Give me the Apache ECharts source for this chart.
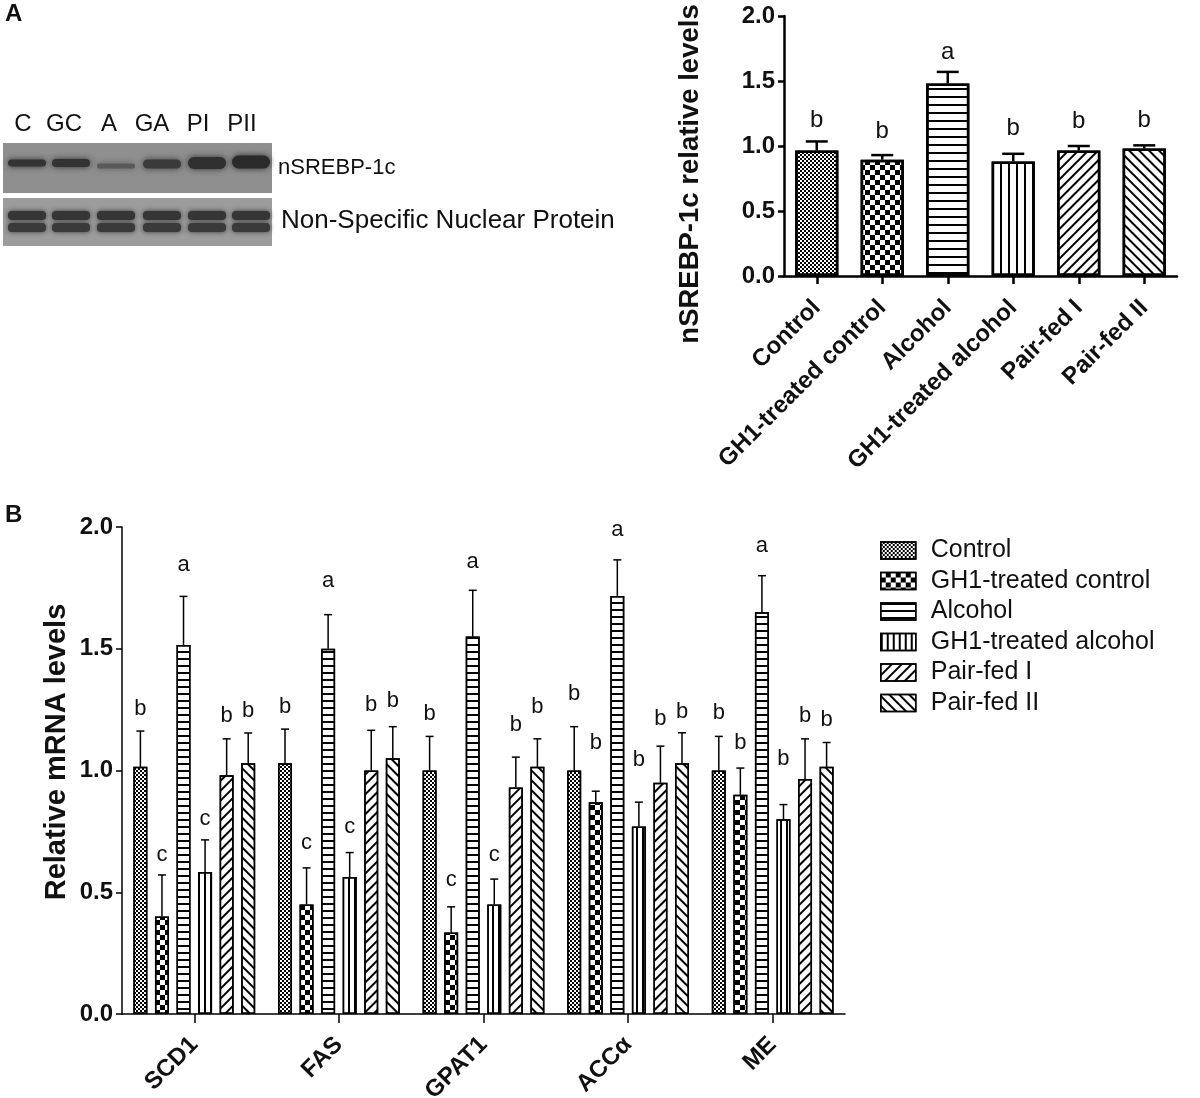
<!DOCTYPE html>
<html><head><meta charset="utf-8">
<script src="https://cdn.jsdelivr.net/npm/echarts@6/dist/echarts.min.js"></script>
<style>html,body{margin:0;padding:0;background:#fff}#c{width:1200px;height:1098px}</style>
</head><body><div id="c"></div>
<script>
const FONT = '"Liberation Sans", Arial, Helvetica, sans-serif';
const INK = '#111';

// ---------- Panel A data ----------
const groupNames = ['Control', 'GH1-treated control', 'Alcohol', 'GH1-treated alcohol', 'Pair-fed I', 'Pair-fed II'];
const srebpValues = [0.965, 0.895, 1.48, 0.88, 0.965, 0.98];
const srebpErrors = [0.07, 0.035, 0.09, 0.06, 0.035, 0.025];
const srebpLetters = ['b', 'b', 'a', 'b', 'b', 'b'];
const srebpLetterLevels = [1.197, 1.11, 1.72, 1.135, 1.19, 1.197];
const yTicks = [0, 0.5, 1.0, 1.5, 2.0];

// Western blot labels
const blotLanes = ['C', 'GC', 'A', 'GA', 'PI', 'PII'];
const blotRows = ['nSREBP-1c', 'Non-Specific Nuclear Protein'];
const bandShadeTop = ['#333', '#333', '#5a5a5a', '#3a3a3a', '#303030', '#2a2a2a'];

// ---------- Panel B data ----------
const genes = ['SCD1', 'FAS', 'GPAT1', 'ACC\u03b1', 'ME'];
const mrnaControl     = [1.015, 1.03, 1.00, 1.00, 1.00];
const mrnaGH1Control  = [0.40, 0.45, 0.335, 0.87, 0.90];
const mrnaAlcohol     = [1.515, 1.50, 1.55, 1.717, 1.65];
const mrnaGH1Alcohol  = [0.583, 0.563, 0.45, 0.77, 0.80];
const mrnaPairFed1    = [0.98, 1.00, 0.93, 0.95, 0.965];
const mrnaPairFed2    = [1.03, 1.05, 1.015, 1.03, 1.015];

const errControl      = [0.147, 0.14, 0.14, 0.18, 0.14];
const errGH1Control   = [0.171, 0.15, 0.105, 0.045, 0.11];
const errAlcohol      = [0.20, 0.14, 0.19, 0.148, 0.15];
const errGH1Alcohol   = [0.132, 0.10, 0.104, 0.10, 0.06];
const errPairFed1     = [0.15, 0.165, 0.125, 0.15, 0.165];
const errPairFed2     = [0.124, 0.13, 0.115, 0.125, 0.10];

const lettersControl     = ['b', 'b', 'b', 'b', 'b'];
const lettersGH1Control  = ['c', 'c', 'c', 'b', 'b'];
const lettersAlcohol     = ['a', 'a', 'a', 'a', 'a'];
const lettersGH1Alcohol  = ['c', 'c', 'c', 'b', 'b'];
const lettersPairFed1    = ['b', 'b', 'b', 'b', 'b'];
const lettersPairFed2    = ['b', 'b', 'b', 'b', 'b'];

const levelControl     = [1.253, 1.261, 1.232, 1.314, 1.236];
const levelGH1Control  = [0.653, 0.702, 0.550, 1.113, 1.113];
const levelAlcohol     = [1.844, 1.778, 1.856, 1.988, 1.922];
const levelGH1Alcohol  = [0.801, 0.768, 0.653, 1.043, 1.047];
const levelPairFed1    = [1.224, 1.269, 1.187, 1.211, 1.224];
const levelPairFed2    = [1.244, 1.285, 1.261, 1.240, 1.207];

// ---------- patterns ----------
function checks(s) { return { symbol: 'rect', symbolSize: 1, dashArrayX: [[s, s], [0, s, s, 0]], dashArrayY: [s, 0], color: '#000' }; }
function hLines(p, w) { return { symbol: 'rect', symbolSize: 1, dashArrayX: [1, 0], dashArrayY: [w, p - w], color: '#000' }; }
function vLines(p, w) { return { symbol: 'rect', symbolSize: 1, dashArrayX: [w, p - w], dashArrayY: [1, 0], color: '#000' }; }
function diag(p, w, rot) { const d = hLines(p, w); d.rotation = rot; return d; }

const decalsA = [checks(2), checks(5), hLines(7, 1.5), vLines(7.2, 1.5), diag(6, 1.5, -Math.PI / 4), diag(6, 1.5, Math.PI / 4)];
const decalsB = [checks(2), checks(4.7), hLines(6.2, 1.5), vLines(4.7, 1.4), diag(5.5, 1.4, -Math.PI / 4), diag(5.5, 1.4, Math.PI / 4)];

const valuesB = [mrnaControl, mrnaGH1Control, mrnaAlcohol, mrnaGH1Alcohol, mrnaPairFed1, mrnaPairFed2];
const errorsB = [errControl, errGH1Control, errAlcohol, errGH1Alcohol, errPairFed1, errPairFed2];
const lettersB = [lettersControl, lettersGH1Control, lettersAlcohol, lettersGH1Alcohol, lettersPairFed1, lettersPairFed2];
const levelsB = [levelControl, levelGH1Control, levelAlcohol, levelGH1Alcohol, levelPairFed1, levelPairFed2];

const BAR_W_B = 14, BAR_GAP_B = 0.54;
const PITCH_B = BAR_W_B * (1 + BAR_GAP_B);

function errRenderer(letters, offset, capW, lw, fontSize) {
  return function (params, api) {
    const cat = api.value(0), v = api.value(1), e = api.value(2), lv = api.value(3);
    const base = api.coord([cat, v]);
    const top = api.coord([cat, v + e]);
    const lp = api.coord([cat, lv]);
    const x = base[0] + offset;
    return {
      type: 'group',
      children: [
        { type: 'line', shape: { x1: x, y1: base[1], x2: x, y2: top[1] }, style: { stroke: '#000', lineWidth: lw } },
        { type: 'line', shape: { x1: x - capW / 2, y1: top[1], x2: x + capW / 2, y2: top[1] }, style: { stroke: '#000', lineWidth: lw } },
        { type: 'text', x: x, y: lp[1], style: { text: letters[params.dataIndex], fontSize: fontSize, fontFamily: FONT, fill: INK, align: 'center', verticalAlign: 'middle' } }
      ]
    };
  };
}

// ---------- blot graphics ----------
const blotX = 3, blotW = 269;
const laneLabelX = [23, 64, 109, 152, 198, 242];
const laneBandX = [27, 71, 116, 162, 207, 251];
const graphics = [
  { type: 'text', left: 5, top: 2, style: { text: 'A', font: 'bold 24px ' + FONT, fill: INK } },
  { type: 'text', left: 5, top: 503, style: { text: 'B', font: 'bold 24px ' + FONT, fill: INK } },
  { type: 'rect', shape: { x: blotX, y: 143, width: blotW, height: 50 }, style: { fill: '#8f8f8f' } },
  { type: 'rect', shape: { x: blotX, y: 198, width: blotW, height: 48 }, style: { fill: '#9c9c9c' } }
];
const topBandH = [7, 8, 5, 9, 12, 13];
const topBandY = [163, 163, 166, 164, 163, 162];
blotLanes.forEach((lane, i) => {
  graphics.push({ type: 'text', x: laneLabelX[i], y: 124, style: { text: lane, fontSize: 24, fontFamily: FONT, fill: INK, align: 'center', verticalAlign: 'middle' } });
  graphics.push({ type: 'rect', shape: { x: laneBandX[i] - 19, y: topBandY[i] - topBandH[i] / 2, width: 38, height: topBandH[i], r: topBandH[i] / 2 }, style: { fill: bandShadeTop[i], shadowBlur: 6, shadowColor: bandShadeTop[i] } });
  graphics.push({ type: 'rect', shape: { x: laneBandX[i] - 19, y: 211, width: 38, height: 9, r: 4 }, style: { fill: '#363636', shadowBlur: 5, shadowColor: '#363636' } });
  graphics.push({ type: 'rect', shape: { x: laneBandX[i] - 19, y: 223, width: 38, height: 9, r: 4 }, style: { fill: '#3a3a3a', shadowBlur: 5, shadowColor: '#3a3a3a' } });
});
graphics.push({ type: 'text', x: 278, y: 168, style: { text: blotRows[0], fontSize: 22, fontFamily: FONT, fill: INK, verticalAlign: 'middle' } });
graphics.push({ type: 'text', x: 281, y: 221, style: { text: blotRows[1], fontSize: 26, fontFamily: FONT, fill: INK, verticalAlign: 'middle' } });
// axis titles
graphics.push({ type: 'text', x: 690, y: 174, rotation: Math.PI / 2, style: { text: 'nSREBP-1c relative levels', font: 'bold 27.5px ' + FONT, fill: INK, align: 'center', verticalAlign: 'middle' } });
graphics.push({ type: 'text', x: 57, y: 752, rotation: Math.PI / 2, style: { text: 'Relative mRNA levels', font: 'bold 29px ' + FONT, fill: INK, align: 'center', verticalAlign: 'middle' } });

// ---------- option ----------
const axisLineA = { lineStyle: { color: '#000', width: 2.5 } };
const axisLineB = { lineStyle: { color: '#000', width: 1.5 } };
const tickFmt = v => v.toFixed(1);

const series = [];
series.push({
  type: 'bar', name: 'nSREBP-1c', xAxisIndex: 0, yAxisIndex: 0, barWidth: '66%',
  data: srebpValues.map((v, i) => ({ value: v, itemStyle: { color: '#fff', borderColor: '#000', borderWidth: 2.5, decal: decalsA[i] } })),
  emphasis: { disabled: true }, silent: true
});
series.push({
  type: 'custom', name: 'errA', xAxisIndex: 0, yAxisIndex: 0, z: 5, silent: true,
  renderItem: errRenderer(srebpLetters, 0, 22, 2.5, 24),
  data: srebpValues.map((v, i) => [i, v, srebpErrors[i], srebpLetterLevels[i]])
});
groupNames.forEach((name, s) => {
  series.push({
    type: 'bar', name: name, xAxisIndex: 1, yAxisIndex: 1, barWidth: BAR_W_B, barGap: (BAR_GAP_B * 100) + '%',
    itemStyle: { color: '#fff', borderColor: '#000', borderWidth: 1.5, decal: decalsB[s] },
    data: valuesB[s], emphasis: { disabled: true }, silent: true
  });
});
groupNames.forEach((name, s) => {
  series.push({
    type: 'custom', name: 'errB' + s, xAxisIndex: 1, yAxisIndex: 1, z: 5, silent: true,
    renderItem: errRenderer(lettersB[s], (s - 2.5) * PITCH_B, 8, 1.5, 22),
    data: valuesB[s].map((v, i) => [i, v, errorsB[s][i], levelsB[s][i]])
  });
});

const option = {
  backgroundColor: '#fff',
  animation: false,
  textStyle: { fontFamily: FONT, color: INK },
  graphic: graphics,
  grid: [
    { left: 784, right: 23, top: 16, bottom: 822, containLabel: false, outerBoundsMode: 'none' },
    { left: 122, right: 355, top: 527, bottom: 84, containLabel: false, outerBoundsMode: 'none' }
  ],
  xAxis: [
    {
      type: 'category', gridIndex: 0, data: groupNames,
      axisLine: axisLineA,
      axisTick: { show: true, alignWithLabel: true, length: 8, lineStyle: { width: 2.5, color: '#000' } },
      axisLabel: { rotate: 45, interval: 0, margin: 28, fontSize: 24, fontWeight: 'bold', fontFamily: FONT, color: INK }
    },
    {
      type: 'category', gridIndex: 1, data: genes,
      axisLine: axisLineB,
      axisTick: { show: true, alignWithLabel: true, length: 9, lineStyle: { width: 1.5, color: '#000' } },
      axisLabel: { rotate: 45, interval: 0, margin: 27, fontSize: 24, fontWeight: 'bold', fontFamily: FONT, color: INK }
    }
  ],
  yAxis: [
    {
      type: 'value', gridIndex: 0, min: yTicks[0], max: yTicks[yTicks.length - 1], interval: yTicks[1] - yTicks[0],
      axisLine: Object.assign({ show: true }, axisLineA),
      axisTick: { show: true, length: 6, lineStyle: { width: 2.5, color: '#000' } },
      splitLine: { show: false },
      axisLabel: { formatter: tickFmt, margin: 9, fontSize: 24, fontWeight: 'bold', fontFamily: FONT, color: INK }
    },
    {
      type: 'value', gridIndex: 1, min: yTicks[0], max: yTicks[yTicks.length - 1], interval: yTicks[1] - yTicks[0],
      axisLine: Object.assign({ show: true }, axisLineB),
      axisTick: { show: true, length: 6, lineStyle: { width: 1.5, color: '#000' } },
      splitLine: { show: false },
      axisLabel: { formatter: tickFmt, margin: 9, fontSize: 24, fontWeight: 'bold', fontFamily: FONT, color: INK }
    }
  ],
  legend: {
    data: groupNames, orient: 'vertical', left: 875, top: 533, selectedMode: false,
    itemWidth: 35, itemHeight: 17, itemGap: 5.5, icon: 'rect',
    itemStyle: { borderColor: '#000', borderWidth: 1.5 },
    textStyle: { fontFamily: FONT, fontSize: 25, color: INK, lineHeight: 25, padding: [0, 0, 0, 10] }
  },
  series: series
};

const chart = echarts.init(document.getElementById('c'), null, { renderer: 'canvas' });
chart.setOption(option);
</script>
</body></html>
